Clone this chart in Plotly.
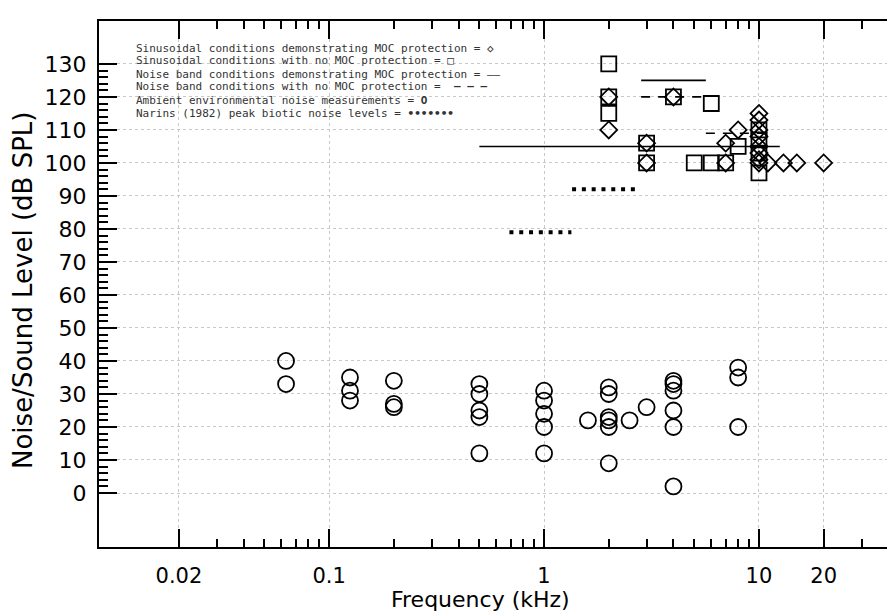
import plotly.graph_objects as go

# ---------------- data ----------------
# Ambient environmental noise measurements (circles)
amb_freq = [0.063, 0.063,
            0.125, 0.125, 0.125,
            0.2, 0.2, 0.2,
            0.5, 0.5, 0.5, 0.5, 0.5,
            1, 1, 1, 1, 1,
            1.6,
            2, 2, 2, 2, 2, 2,
            2.5,
            3.0,
            4, 4, 4, 4, 4, 4,
            8, 8, 8]
amb_level = [40, 33,
             35, 31, 28,
             34, 27, 26,
             33, 30, 25, 23, 12,
             31, 28, 24, 20, 12,
             22,
             32, 30, 23, 22, 20, 9,
             22,
             26,
             34, 33, 31, 25, 20, 2,
             38, 35, 20]

# Sinusoidal conditions demonstrating MOC protection (diamonds)
sin_moc_freq = [2, 2, 3, 3, 4, 7, 7, 8,
                10, 10, 10, 10, 10, 10, 10, 10,
                11, 13, 15, 20]
sin_moc_level = [120, 110, 106, 100, 120, 106, 100, 110,
                 115, 113, 110, 108, 105, 103, 101, 100,
                 100, 100, 100, 100]

# Sinusoidal conditions with no MOC protection (squares)
sin_no_freq = [2, 2, 2, 3, 3, 4, 5, 6, 6, 7, 8, 10, 10, 10, 10]
sin_no_level = [130, 120, 115, 106, 100, 120, 100, 118, 100, 100, 105, 110, 107, 103, 97]

# Noise band conditions demonstrating MOC protection (solid lines)
band_moc = [([0.5, 12.5], 105), ([2.83, 5.66], 125)]
# Noise band conditions with no MOC protection (dashed lines)
band_no = [([2.83, 5.66], 120), ([5.66, 11.3], 109)]
# Narins (1982) peak biotic noise levels (dotted)
narins = [([0.69, 1.34], 79), ([1.35, 2.69], 92)]

x_tickvals = [0.02, 0.1, 1, 10, 20]
x_ticktext = ["0.02", "0.1", "1", "10", "20"]
x_minorvals = [0.03, 0.04, 0.05, 0.06, 0.07, 0.08, 0.09,
               0.2, 0.3, 0.4, 0.5, 0.6, 0.7, 0.8, 0.9,
               2, 3, 4, 5, 6, 7, 8, 9, 30, 40]
y_tickvals = list(range(0, 131, 10))
y_minorvals = list(range(0, 131, 2))

legend_lines = [
    "Sinusoidal conditions demonstrating MOC protection = <b>◇</b>",
    "Sinusoidal conditions with no MOC protection = <b>□</b>",
    "Noise band conditions demonstrating MOC protection = ——",
    "Noise band conditions with no MOC protection =  <b>– – –</b>",
    "Ambient environmental noise measurements = <b>O</b>",
    "Narins (1982) peak biotic noise levels = <b>•••••••</b>",
]

# ---------------- figure ----------------
# page body adds an 8px offset, so the figure is 8px smaller than the window
W, H = 887, 604
ML, MR, MT, MB = 91, 0, 13, 65
FONT = "DejaVu Sans"
LEG_FONT = "DejaVu Sans Mono"

fig = go.Figure()

for xs, lv in band_moc:
    fig.add_trace(go.Scatter(x=xs, y=[lv, lv], mode="lines",
                             line=dict(color="black", width=1.6), hoverinfo="skip"))
for xs, lv in band_no:
    fig.add_trace(go.Scatter(x=xs, y=[lv, lv], mode="lines",
                             line=dict(color="black", width=1.6, dash="9px,8px"), hoverinfo="skip"))
for xs, lv in narins:
    fig.add_trace(go.Scatter(x=xs, y=[lv, lv], mode="lines",
                             line=dict(color="black", width=4, dash="4px,5.8px"), hoverinfo="skip"))

fig.add_trace(go.Scatter(x=amb_freq, y=amb_level, mode="markers",
                         marker=dict(symbol="circle-open", size=16, color="black",
                                     line=dict(width=1.8, color="black"))))
fig.add_trace(go.Scatter(x=sin_no_freq, y=sin_no_level, mode="markers",
                         marker=dict(symbol="square-open", size=15, color="black",
                                     line=dict(width=1.8, color="black"))))
fig.add_trace(go.Scatter(x=sin_moc_freq, y=sin_moc_level, mode="markers",
                         marker=dict(symbol="diamond-open", size=13, color="black",
                                     line=dict(width=1.8, color="black"))))

plot_w = W - ML - MR
plot_h = H - MT - MB

def px_x(p):
    return (p - ML) / plot_w

def px_y(p):
    return (H - MB - p) / plot_h

annotations = []
for i, t in enumerate(legend_lines):
    annotations.append(dict(text=t, x=px_x(126), y=px_y(40 + 13 * i), xref="paper", yref="paper",
                            xanchor="left", yanchor="middle", showarrow=False,
                            font=dict(family=LEG_FONT, size=11, color="#333")))
annotations.append(dict(text="Frequency (kHz)", x=px_x(472), y=px_y(591.5), xref="paper", yref="paper",
                        xanchor="center", yanchor="middle", showarrow=False,
                        font=dict(family=FONT, size=22, color="black")))
annotations.append(dict(text="Noise/Sound Level (dB SPL)", x=px_x(15), y=px_y(283), xref="paper",
                        yref="paper", xanchor="center", yanchor="middle", textangle=-90,
                        showarrow=False, font=dict(family=FONT, size=26, color="black")))

fig.update_layout(
    width=W, height=H, autosize=False,
    margin=dict(l=ML, r=MR, t=MT, b=MB, pad=0),
    paper_bgcolor="white", plot_bgcolor="white",
    showlegend=False,
    font=dict(family=FONT, size=20, color="black"),
    annotations=annotations,
    xaxis=dict(type="log", range=[-2.071, 1.633],
               tickmode="array", tickvals=x_tickvals, ticktext=x_ticktext,
               ticks="inside", ticklen=18, tickwidth=2, tickcolor="black",
               minor=dict(tickmode="array", tickvals=x_minorvals, ticks="inside",
                          ticklen=8, tickwidth=2, tickcolor="black", showgrid=False),
               showline=True, linecolor="black", linewidth=2, mirror="ticks",
               showgrid=True, gridcolor="#c8c8c8", griddash="dot", gridwidth=1,
               zeroline=False, ticklabelstandoff=9, automargin=False,
               tickfont=dict(family=FONT, size=21)),
    yaxis=dict(range=[-16.36, 143.0],
               tickmode="array", tickvals=y_tickvals,
               ticks="inside", ticklen=18, tickwidth=2, tickcolor="black",
               minor=dict(tickmode="array", tickvals=y_minorvals, ticks="inside",
                          ticklen=9, tickwidth=2, tickcolor="black", showgrid=False),
               showline=True, linecolor="black", linewidth=2, mirror=False,
               showgrid=True, gridcolor="#c8c8c8", griddash="dot", gridwidth=1,
               zeroline=False, ticklabelstandoff=6, automargin=False,
               tickfont=dict(family=FONT, size=22)),
    yaxis2=dict(range=[-16.36, 143.0], overlaying="y", side="right",
                tickmode="array", tickvals=y_tickvals, showticklabels=False,
                ticks="inside", ticklen=8, tickwidth=2, tickcolor="black",
                showline=False, showgrid=False, zeroline=False, automargin=False),
)

fig.write_html("out.html")
